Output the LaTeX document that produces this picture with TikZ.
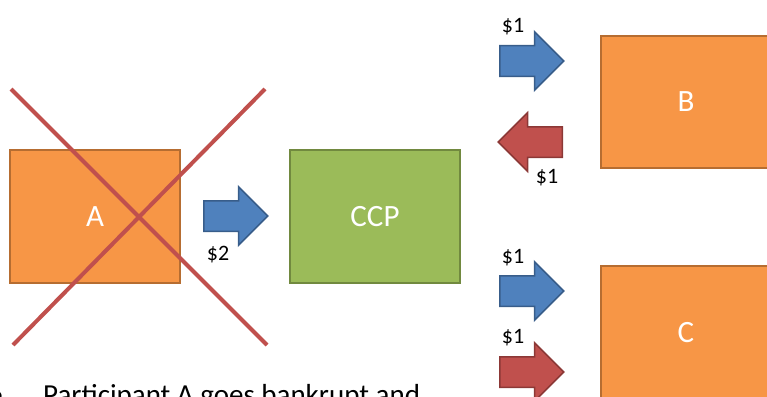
\documentclass[tikz,border=0pt]{standalone}
\usepackage{fontspec}
\setmainfont{Carlito}
\usetikzlibrary{shapes.arrows}
\definecolor{boxorange}{HTML}{F79646}
\definecolor{orangeline}{HTML}{B66D31}
\definecolor{boxgreen}{HTML}{9BBB59}
\definecolor{greenline}{HTML}{71893F}
\definecolor{payblue}{HTML}{4F81BD}
\definecolor{blueline}{HTML}{385D8A}
\definecolor{payred}{HTML}{C0504D}
\definecolor{redline}{HTML}{8C3836}
\begin{document}
\begin{tikzpicture}[x=1pt,y=-1pt]
\useasboundingbox (0,0) rectangle (767,396);
\clip (0,0) rectangle (767,396);
\node[rectangle, draw=orangeline, fill=boxorange, line width=2pt, minimum width=170pt, minimum height=133pt, text=white, font=\fontsize{31}{31}\selectfont] (pa) at (95,216.5){A};
\node[rectangle, draw=greenline, fill=boxgreen, line width=2pt, minimum width=170pt, minimum height=133pt, text=white, font=\fontsize{31}{31}\selectfont] (ccp) at (375,216.5){CCP};
\node[rectangle, draw=orangeline, fill=boxorange, line width=2pt, minimum width=170pt, minimum height=132pt, text=white, font=\fontsize{31}{31}\selectfont] (pb) at (686,102){B};
\node[rectangle, draw=orangeline, fill=boxorange, line width=2pt, minimum width=170pt, minimum height=133pt, text=white, font=\fontsize{31}{31}\selectfont] (pc) at (686,332.5){C};
% red cross over A
\coordinate (xa) at (11,89);
\coordinate (xb) at (267,345);
\coordinate (xc) at (265,89);
\coordinate (xd) at (13,345);
\draw[payred, line width=4pt](xa) -- (xb);
\draw[payred, line width=4pt](xc) -- (xd);
% payments
\node[single arrow, single arrow head extend=14pt, inner sep=14.5pt, inner xsep=0pt, minimum height=64pt, fill=payblue, draw=blueline, line width=1.5pt, anchor=tail] (pay0) at (203,216){};
\node[single arrow, single arrow head extend=14pt, inner sep=14.5pt, inner xsep=0pt, minimum height=64pt, fill=payblue, draw=blueline, line width=1.5pt, anchor=tail] (pay1) at (499,61){};
\node[single arrow, single arrow head extend=14pt, inner sep=14.5pt, inner xsep=0pt, minimum height=64pt, fill=payred, draw=redline, line width=1.5pt, shape border rotate=180, anchor=tail] (pay2) at (563,142){};
\node[single arrow, single arrow head extend=14pt, inner sep=14.5pt, inner xsep=0pt, minimum height=64pt, fill=payblue, draw=blueline, line width=1.5pt, anchor=tail] (pay3) at (499,291){};
\node[single arrow, single arrow head extend=14pt, inner sep=14.5pt, inner xsep=0pt, minimum height=64pt, fill=payred, draw=redline, line width=1.5pt, anchor=tail] (pay4) at (499,372){};
\node[font=\fontsize{22}{22}\selectfont] (amt0) at (218,255){\$2};
\node[font=\fontsize{22}{22}\selectfont] (amt1) at (513,27){\$1};
\node[font=\fontsize{22}{22}\selectfont] (amt2) at (547,178){\$1};
\node[font=\fontsize{22}{22}\selectfont] (amt3) at (513,258){\$1};
\node[font=\fontsize{22}{22}\selectfont] (amt4) at (513,338){\$1};
% note under the picture
\node[anchor=base east, inner sep=0pt, font=\fontsize{29}{29}\selectfont] (dot) at (4,404){•};
\node[anchor=base west, inner sep=0pt, font=\fontsize{29}{29}\selectfont] (note) at (43,404){Participant A goes bankrupt and};
\end{tikzpicture}
\end{document}
